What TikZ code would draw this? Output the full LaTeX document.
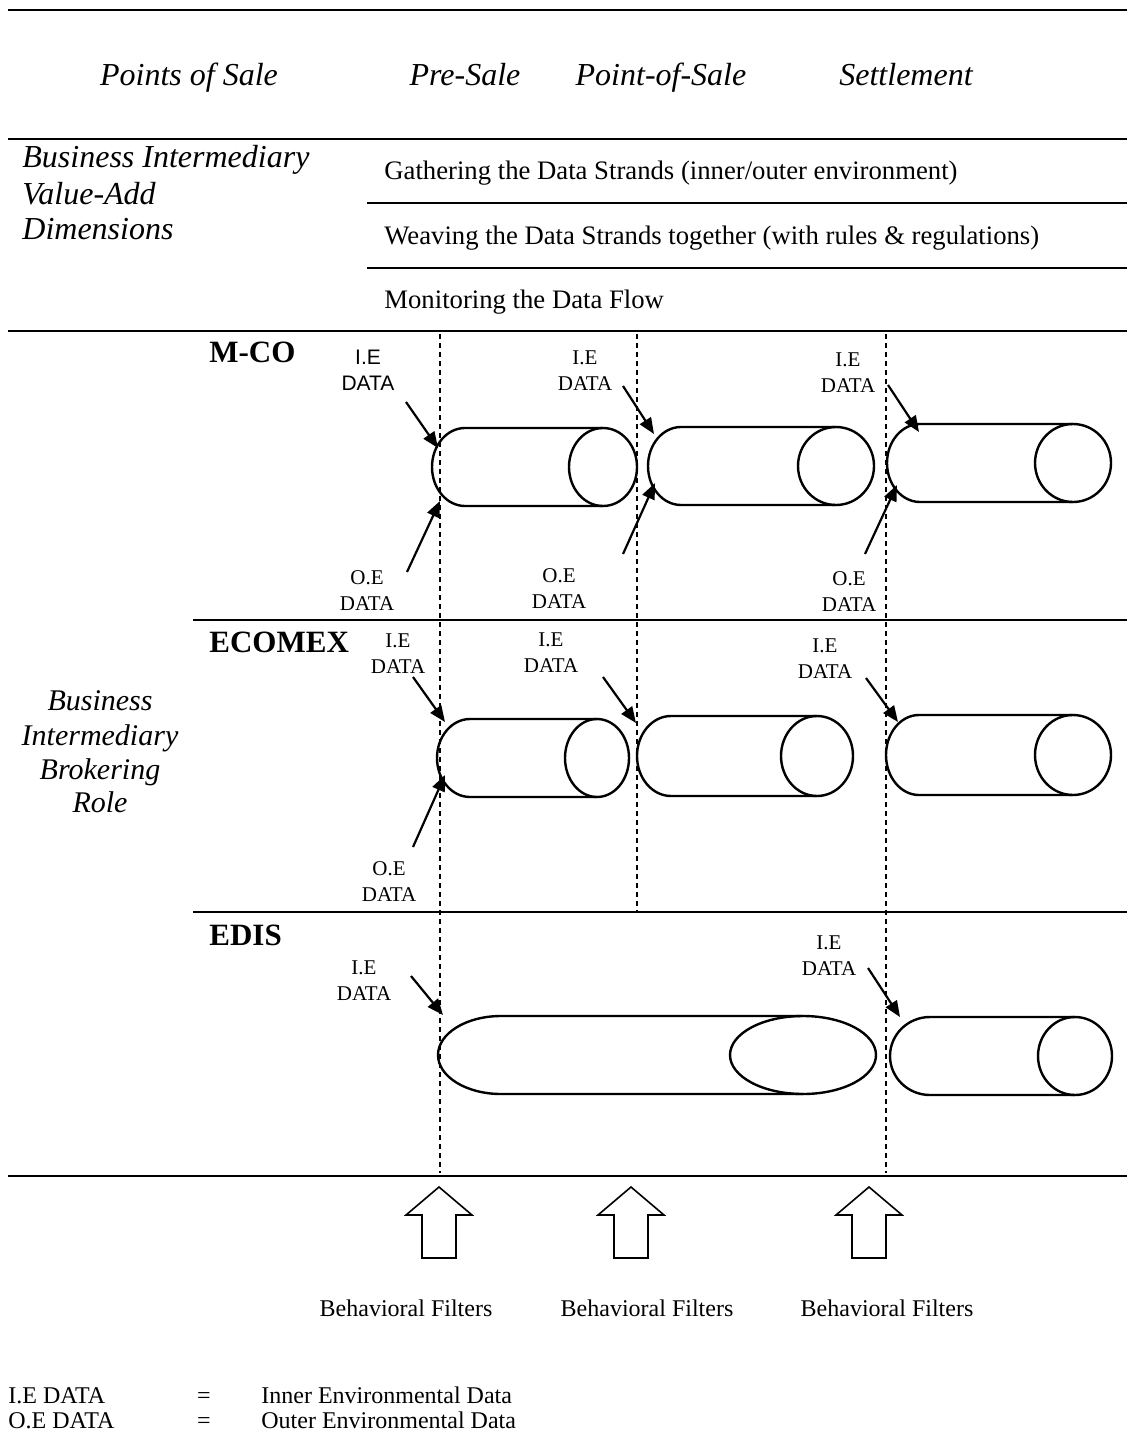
\documentclass[tikz,border=0pt]{standalone}
\usepackage{fontspec}
\setmainfont{Liberation Serif}
\newfontfamily\labsans{Liberation Sans}
\usetikzlibrary{arrows.meta}
\tikzset{
  rule/.style={line width=1pt},
  vdash/.style={line width=0.6pt, dash pattern=on 2.5pt off 2pt},
  cylline/.style={line width=1.2pt},
  dataarrow/.style={line width=1.1pt, -{Triangle[length=8pt,width=6.5pt]}},
  blockarrow/.style={line width=0.8pt, line join=miter},
  hdr/.style={font=\fontsize{16}{19}\selectfont\itshape, inner sep=0pt, anchor=base},
  sidehdr/.style={font=\fontsize{16}{19}\selectfont\itshape, inner sep=0pt, anchor=base west},
  roletxt/.style={font=\fontsize{15}{18}\selectfont\itshape, inner sep=0pt, anchor=base},
  dimtxt/.style={font=\fontsize{13.35}{16}\selectfont, inner sep=0pt, anchor=base west},
  bodytxt/.style={font=\fontsize{12}{14}\selectfont, inner sep=0pt, anchor=base west},
  filtertxt/.style={font=\fontsize{12}{14}\selectfont, inner sep=0pt, anchor=base},
  rowname/.style={font=\fontsize{15.5}{18}\selectfont\bfseries, inner sep=0pt, anchor=base west},
  lab/.style={font=\fontsize{10.5}{13}\selectfont, inner sep=0pt, anchor=north, align=center},
}
% cylinder: #1 L, #2 R, #3 cy, #4 ry, #5 left rx, #6 right rx
\newcommand\drawcyl[6]{%
  \draw[cylline] ({#2-#6},{#3-#4}) -- ({#1+#5},{#3-#4})
     arc[start angle=90, end angle=270, x radius=#5*0.5pt, y radius=#4*0.5pt]
     -- ({#2-#6},{#3+#4});
  \draw[cylline] ({#2-#6},#3) ellipse[x radius=#6*0.5pt, y radius=#4*0.5pt];
}
% data arrow: #1 name, #2 tail, #3 tip
\newcommand\darrow[3]{%
  \coordinate (#1t) at (#2);
  \coordinate (#1h) at (#3);
  \draw[dataarrow] (#1t) -- (#1h);
}
% block arrow at centre x #1
\newcommand\blockarr[1]{%
  \draw[blockarrow] (#1,1187) -- ({#1+33},1215) -- ({#1+17},1215) -- ({#1+17},1258)
     -- ({#1-17},1258) -- ({#1-17},1215) -- ({#1-33},1215) -- cycle;
}
\begin{document}
\begin{tikzpicture}[x=0.5pt, y=-0.5pt]
\useasboundingbox (0,0) rectangle (1127,1433);

% horizontal rules
\draw[rule] (8,10) -- (1127,10);
\draw[rule] (8,139) -- (1127,139);
\draw[rule] (367,203) -- (1127,203);
\draw[rule] (367,268) -- (1127,268);
\draw[rule] (8,331) -- (1127,331);
\draw[rule] (193,620) -- (1127,620);
\draw[rule] (193,912) -- (1127,912);
\draw[rule] (8,1176) -- (1127,1176);

% dashed verticals
\draw[vdash] (440,334) -- (440,1173);
\draw[vdash] (637,334) -- (637,912);
\draw[vdash] (886,334) -- (886,1173);

% header
\node[hdr] (pos) at (189,86) {Points of Sale};
\node[hdr] (pre) at (465,86) {Pre-Sale};
\node[hdr] (pnt) at (661,86) {Point-of-Sale};
\node[hdr] (set) at (906,86) {Settlement};

% value-add dimensions
\node[sidehdr] (bi1) at (22,168) {Business Intermediary};
\node[sidehdr] (bi2) at (22,205) {Value-Add};
\node[sidehdr] (bi3) at (22,240) {Dimensions};
\node[dimtxt] (g1) at (384,180) {Gathering the Data Strands (inner/outer environment)};
\node[dimtxt] (g2) at (384,245) {Weaving the Data Strands together (with rules \& regulations)};
\node[dimtxt] (g3) at (384,308) {Monitoring the Data Flow};

% role
\node[roletxt] (r1) at (100,710) {Business};
\node[roletxt] (r2) at (100,745) {Intermediary};
\node[roletxt] (r3) at (100,779) {Brokering};
\node[roletxt] (r4) at (100,812) {Role};

% row names
\node[rowname] (mco) at (209,362) {M-CO};
\node[rowname] (ecomex) at (209,652) {ECOMEX};
\node[rowname] (edis) at (209,945) {EDIS};

% cylinders
\drawcyl{432}{637}{467}{39}{33}{34}
\drawcyl{648}{874}{466}{39}{33}{38}
\drawcyl{887}{1111}{463}{39}{33}{38}
\drawcyl{437}{629}{758}{39}{33}{32}
\drawcyl{637}{853}{756}{40}{34}{36}
\drawcyl{886}{1111}{755}{40}{33}{38}
\drawcyl{438}{876}{1055}{39}{63}{73}
\drawcyl{890}{1112}{1056}{39}{40}{37}

% labels
\node[lab, font=\labsans\fontsize{10.5}{13}\selectfont] (mie1) at (368,350) {I.E\\DATA};
\node[lab] (mie2) at (585,350) {I.E\\DATA};
\node[lab] (mie3) at (848,352) {I.E\\DATA};
\node[lab] (moe1) at (367,570) {O.E\\DATA};
\node[lab] (moe2) at (559,568) {O.E\\DATA};
\node[lab] (moe3) at (849,571) {O.E\\DATA};
\node[lab] (eie1) at (398,633) {I.E\\DATA};
\node[lab] (eie2) at (551,632) {I.E\\DATA};
\node[lab] (eoe1) at (389,861) {O.E\\DATA};
\node[lab] (eie3) at (825,638) {I.E\\DATA};
\node[lab] (die1) at (364,960) {I.E\\DATA};
\node[lab] (die2) at (829,935) {I.E\\DATA};

% data arrows
\darrow{amie1}{406,402}{438,448}
\darrow{amoe1}{407,572}{440,501}
\darrow{amie2}{623,386}{654,434}
\darrow{amoe2}{623,554}{655,483}
\darrow{amie3}{888,385}{919,432}
\darrow{amoe3}{865,554}{897,485}
\darrow{aeie1}{413,677}{445,722}
\darrow{aeoe1}{413,847}{445,775}
\darrow{aeie2}{603,677}{636,723}
\darrow{aeie3}{866,678}{898,722}
\darrow{adie1}{411,976}{443,1015}
\darrow{adie2}{868,968}{900,1017}

% behavioral filters
\blockarr{439}
\blockarr{631}
\blockarr{869}
\node[filtertxt] (bf1) at (406,1316) {Behavioral Filters};
\node[filtertxt] (bf2) at (647,1316) {Behavioral Filters};
\node[filtertxt] (bf3) at (887,1316) {Behavioral Filters};

% legend
\node[bodytxt] (l1) at (8,1403) {I.E DATA};
\node[bodytxt] (l2) at (8,1428) {O.E DATA};
\node[filtertxt] (eq1) at (204,1403) {=};
\node[filtertxt] (eq2) at (204,1428) {=};
\node[bodytxt] (l3) at (261,1403) {Inner Environmental Data};
\node[bodytxt] (l4) at (261,1428) {Outer Environmental Data};
\end{tikzpicture}
\end{document}
